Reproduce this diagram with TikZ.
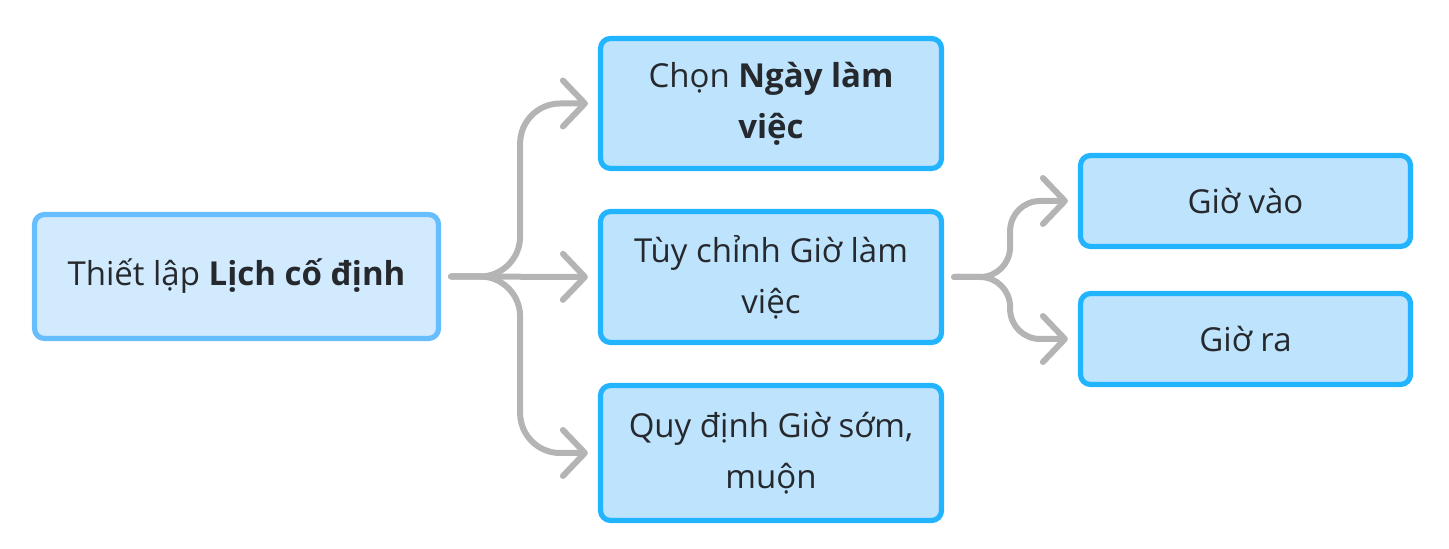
\documentclass[tikz,border=0pt]{standalone}
\usepackage{fontspec}
\setmainfont{Open Sans}
\usetikzlibrary{arrows.meta}
\definecolor{txt}{HTML}{25292E}
\definecolor{rootline}{HTML}{66BEFF}
\definecolor{rootfill}{HTML}{D1EAFD}
\definecolor{kidline}{HTML}{22B4FF}
\definecolor{kidfill}{HTML}{BEE3FC}
\definecolor{conncol}{HTML}{B4B4B4}
\tikzset{
  box/.style={draw, line width=2.6pt, rounded corners=5pt, align=center, text=txt,
    font=\fontsize{16.5}{25.5}\selectfont, inner sep=0pt},
  rootbox/.style={box, draw=rootline, fill=rootfill, minimum width=202pt, minimum height=62pt},
  kidbox/.style={box, draw=kidline, fill=kidfill, minimum width=170.5pt},
  conn/.style={draw=conncol, line width=3pt, line cap=round, line join=round,
    shorten <=5pt, shorten >=5pt,
    -{Straight Barb[length=11pt,width=23pt,round]}},
}
\begin{document}
\begin{tikzpicture}[x=0.5pt,y=-0.5pt]
\useasboundingbox (0,0) rectangle (1449,549);
\node[rootbox] (root) at (236.5,276.5) {Thiết lập \textbf{Lịch cố định}};
\node[kidbox, minimum height=65pt] (A) at (771,103.5) {Chọn \textbf{Ngày làm}\\\textbf{việc}};
\node[kidbox, minimum height=65.5pt] (B) at (771,277) {Tùy chỉnh Giờ làm\\việc};
\node[kidbox, minimum height=67.5pt] (C) at (771,453) {Quy định Giờ sớm,\\muộn};
\node[kidbox, minimum width=165pt, minimum height=45.5pt] (D) at (1245.5,201) {Giờ vào};
\node[kidbox, minimum width=165pt, minimum height=45.5pt] (E) at (1245.5,339) {Giờ ra};
\draw[conn, rounded corners=20pt] (root.east) -- ++(79,0) |- (A.west);
\draw[conn] (root.east) -- (B.west);
\draw[conn, rounded corners=20pt] (root.east) -- ++(79,0) |- (C.west);
\draw[conn, rounded corners=15pt] (B.east) -- ++(66,0) |- (D.west);
\draw[conn, rounded corners=15pt] (B.east) -- ++(66,0) |- (E.west);
\end{tikzpicture}
\end{document}
